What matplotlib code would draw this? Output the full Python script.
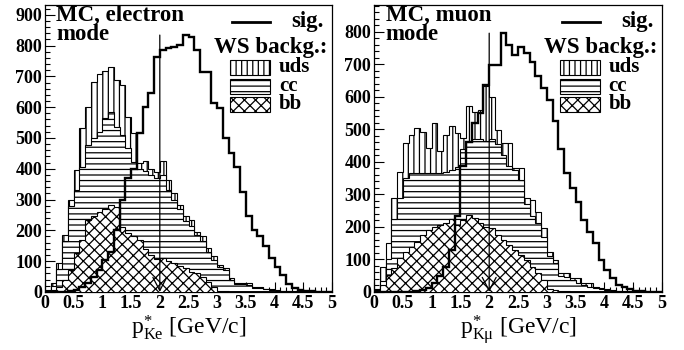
import numpy as np
import matplotlib
matplotlib.use("Agg")
import matplotlib.pyplot as plt
from matplotlib.patches import Rectangle

plt.rcParams["font.family"] = ["Liberation Serif", "DejaVu Serif"]
plt.rcParams["mathtext.fontset"] = "custom"
plt.rcParams["mathtext.rm"] = "Liberation Serif"
plt.rcParams["mathtext.it"] = "Liberation Serif:italic"
plt.rcParams["hatch.linewidth"] = 0.9

# 50 bins of 0.1 GeV/c from 0 to 5
edges = np.linspace(0, 5, 51)
cut = 2.0

# electron mode: signal and stacked WS background (bb, bb+cc, bb+cc+uds)
sig_e = [0, 0, 0, 1, 3, 5, 15, 30, 50, 70,
         104, 131, 200, 300, 370, 400, 515, 602, 645, 764,
         786, 791, 795, 802, 834, 829, 786, 715, 715, 612,
         596, 499, 450, 407, 325, 248, 200, 183, 148, 110,
         80, 55, 25, 14, 6, 3, 2, 1, 0, 0]
bb_e = [0, 5, 17, 39, 71, 126, 170, 234, 245, 261,
        270, 282, 277, 212, 190, 180, 170, 140, 120, 108,
        110, 100, 94, 85, 78, 66, 60, 50, 33, 15,
        4, 2, 1, 0, 0, 0, 0, 0, 0, 0,
        0, 0, 0, 0, 0, 0, 0, 0, 0, 0]
bbcc_e = [3, 20, 75, 165, 280, 331, 407, 477, 500, 520,
          564, 585, 537, 510, 466, 423, 400, 391, 380, 370,
          380, 330, 300, 270, 230, 215, 185, 165, 130, 105,
          80, 70, 40, 25, 25, 22, 12, 12, 8, 6,
          4, 2, 2, 1, 1, 0, 0, 0, 0, 0]
all_e = [5, 28, 93, 185, 299, 396, 531, 602, 683, 708,
         718, 731, 688, 672, 569, 515, 418, 425, 400, 390,
         425, 364, 320, 283, 245, 234, 196, 180, 142, 115,
         88, 77, 44, 28, 28, 28, 17, 17, 10, 8,
         5, 3, 3, 2, 2, 1, 0, 0, 0, 0]

# muon mode
sig_mu = [0, 0, 0, 0, 0, 0, 1, 2, 5, 12,
          26, 50, 78, 129, 232, 386, 462, 520, 550, 637,
          698, 698, 796, 760, 729, 752, 736, 706, 665, 627,
          591, 527, 440, 365, 319, 278, 221, 185, 150, 98,
          67, 42, 21, 16, 8, 3, 2, 1, 0, 0]
bb_mu = [3, 21, 52, 73, 103, 124, 139, 155, 175, 191,
         201, 206, 211, 225, 206, 221, 237, 227, 211, 201,
         196, 175, 160, 145, 129, 114, 98, 78, 57, 37,
         10, 5, 3, 2, 1, 0, 0, 0, 0, 0,
         0, 0, 0, 0, 0, 0, 0, 0, 0, 0]
bbcc_mu = [5, 35, 100, 225, 290, 350, 365, 365, 365, 365,
           365, 365, 370, 375, 385, 440, 462, 470, 470, 465,
           470, 455, 420, 386, 375, 345, 270, 232, 211, 170,
           110, 90, 50, 45, 37, 26, 21, 15, 12, 8,
           5, 3, 2, 1, 1, 0, 0, 0, 0, 0]
all_mu = [10, 78, 150, 288, 370, 457, 483, 504, 493, 442,
          519, 432, 483, 511, 488, 473, 572, 555, 560, 632,
          600, 498, 457, 457, 380, 380, 290, 283, 247, 196,
          124, 98, 57, 57, 42, 42, 26, 26, 15, 12,
          8, 6, 4, 3, 2, 1, 0, 0, 0, 0]

xticks = [0, 0.5, 1, 1.5, 2, 2.5, 3, 3.5, 4, 4.5, 5]


def draw_panel(ax, sig, bb, bbcc, tot, title, xlabel, ymax, yticks):
    # stacked backgrounds drawn as cumulative histograms, white filled with hatch
    ax.stairs(tot, edges, baseline=0, fill=True, facecolor="white",
              edgecolor="black", hatch="|||", lw=0.8, zorder=2)
    ax.stairs(bbcc, edges, baseline=0, fill=True, facecolor="white",
              edgecolor="black", hatch="---", lw=0.8, zorder=3)
    ax.stairs(bb, edges, baseline=0, fill=True, facecolor="white",
              edgecolor="black", hatch="xxx", lw=0.8, zorder=4)
    ax.stairs(sig, edges, color="black", lw=1.7, zorder=5)

    ax.annotate("", xy=(cut, 0), xytext=(cut, max(sig)),
                arrowprops=dict(arrowstyle="->, head_length=0.95, head_width=0.5",
                                lw=0.9, color="black", shrinkA=0, shrinkB=0),
                zorder=6)

    ax.set_xlim(0, 5)
    ax.set_ylim(0, ymax)
    ax.set_xticks(xticks, [f"{t:g}" for t in xticks], fontweight="bold", fontsize=13)
    ax.set_yticks(yticks, [str(t) for t in yticks], fontweight="bold", fontsize=13)
    ax.set_xticks(np.arange(0, 5.01, 0.1), minor=True)
    ax.set_yticks(np.arange(0, ymax, 20), minor=True)
    ax.tick_params(which="both", direction="in", top=False, right=False, width=0.8)
    ax.tick_params(which="major", length=7)
    ax.tick_params(which="minor", length=3.5)
    ax.tick_params(axis="y", pad=2)
    ax.tick_params(axis="x", pad=2)
    for s in ax.spines.values():
        s.set_linewidth(0.9)
    ax.set_xlabel(xlabel, fontsize=17, labelpad=1)

    ax.text(0.04, 1.0, title, transform=ax.transAxes, fontsize=16.5,
            fontweight="bold", va="top", ha="left", linespacing=0.85)

    # legend block
    tr = ax.transAxes
    ax.plot([0.652, 0.784], [0.941, 0.941], color="black", lw=2, transform=tr)
    ax.text(0.97, 0.941, "sig.", transform=tr, fontsize=16.5, fontweight="bold",
            ha="right", va="center")
    ax.text(0.985, 0.852, "WS backg.:", transform=tr, fontsize=16.5,
            fontweight="bold", ha="right", va="center")
    for y0, hatch, name in [(0.756, "|||", "uds"), (0.691, "---", "cc"),
                            (0.627, "xxx", "bb")]:
        ax.add_patch(Rectangle((0.645, y0), 0.139, 0.052, transform=tr,
                               facecolor="white", edgecolor="black",
                               hatch=hatch, lw=0.8, zorder=7))
        ax.text(0.815, y0 + 0.026, name, transform=tr, fontsize=15,
                fontweight="bold", ha="left", va="center")


fig = plt.figure(figsize=(6.84, 3.5), dpi=100)
ax1 = fig.add_axes([0.0658, 0.166, 0.4196, 0.82])
ax2 = fig.add_axes([0.5468, 0.166, 0.421, 0.82])

draw_panel(ax1, sig_e, bb_e, bbcc_e, all_e, "MC, electron\nmode",
           r"p$^{*}_{\mathrm{Ke}}$ [GeV/c]", 932, list(range(0, 901, 100)))
draw_panel(ax2, sig_mu, bb_mu, bbcc_mu, all_mu, "MC, muon\nmode",
           r"p$^{*}_{\mathrm{K\mu}}$ [GeV/c]", 883, list(range(0, 801, 100)))

fig.savefig("out.png", dpi=100)
